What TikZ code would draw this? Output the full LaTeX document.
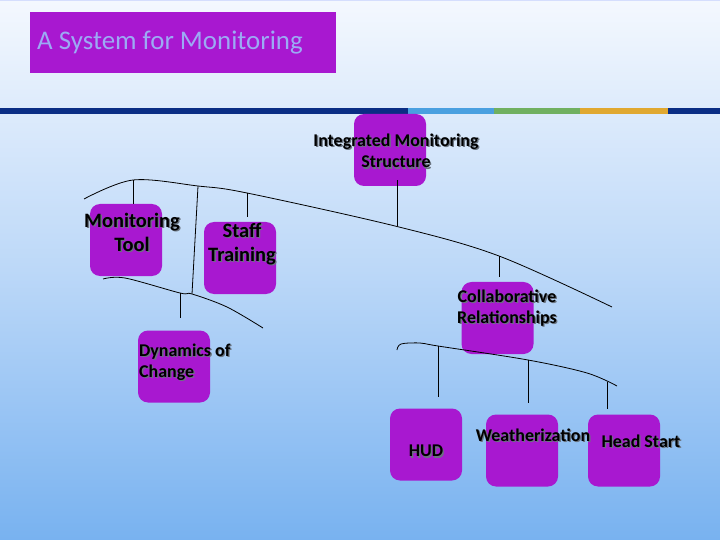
\documentclass[tikz,border=0pt]{standalone}
\usepackage{fontspec}
\setmainfont{Carlito}
\definecolor{bgtop}{HTML}{F4F8FE}
\definecolor{bgmid}{HTML}{BCD8F8}
\definecolor{bgbot}{HTML}{78B2F0}
\definecolor{boxpurple}{HTML}{A818D0}
\definecolor{titletext}{HTML}{9CAAF4}
\definecolor{navy}{HTML}{0A2D84}
\definecolor{barblue}{HTML}{4AA0E0}
\definecolor{bargreen}{HTML}{70B060}
\definecolor{barorange}{HTML}{E0A830}
\definecolor{shadowgray}{HTML}{6A7480}
\newcommand\mylabel[4][]{%
  \node[lbl,text=shadowgray,xshift=1.3bp,yshift=-1.3bp,#1] at (#3) {#4};
  \node[lbl,#1] (#2) at (#3) {#4};}
\begin{document}
\begin{tikzpicture}[x=1bp,y=-1bp,
  box/.style={fill=boxpurple,draw=none,rounded corners=10bp,minimum width=72bp,minimum height=72bp,inner sep=0pt},
  lbl/.style={inner sep=0pt,align=center,font=\bfseries\fontsize{18}{21.5}\selectfont,text=black},
  big/.style={font=\bfseries\fontsize{20.5}{24}\selectfont},
  conn/.style={draw=black,line width=0.8bp}]
\useasboundingbox (0,0) rectangle (720,540);
\shade[top color=bgtop, bottom color=bgbot, middle color=bgmid] (0,0) rectangle (720,540);
\draw[draw=bgmid!80!blue!40!white, line width=1bp] (0,0.5) -- (720,0.5);
% title
\node[fill=boxpurple,minimum width=306bp,minimum height=61bp,inner sep=0pt] (titlebox) at (183,42.5) {};
\node[anchor=west,inner sep=0pt,text=titletext,font=\fontsize{27}{30}\selectfont] (title) at (37,43) {A System for Monitoring};
% colour bar
\fill[navy] (0,108) rectangle (408,114);
\fill[barblue] (408,108) rectangle (494,114);
\fill[bargreen] (494,108) rectangle (580,114);
\fill[barorange] (580,108) rectangle (668,114);
\fill[navy] (668,108) rectangle (720,114);
% boxes
\node[box] (imsbox) at (390,150) {};
\node[box] (mtbox) at (126,240) {};
\node[box] (stbox) at (240,258) {};
\node[box] (crbox) at (497.5,318) {};
\node[box] (docbox) at (174,366.5) {};
\node[box] (hudbox) at (426,444.5) {};
\node[box] (wzbox) at (522,450.5) {};
\node[box] (hsbox) at (624,450.5) {};
% labels
\mylabel{imst}{396,151}{Integrated Monitoring\\Structure}
\mylabel[big]{mtt}{132,232}{Monitoring\\Tool}
\mylabel[big]{stt}{242,244}{Staff\\Training}
\mylabel{crt}{507,308}{Collaborative\\Relationships}
\mylabel[anchor=west,align=left]{doct}{139,362}{Dynamics of\\Change}
\mylabel{hudt}{426,451}{HUD}
\mylabel{wzt}{533,435}{Weatherization}
\mylabel{hst}{641,441}{Head Start}
% connector curves
\coordinate (c1) at (133,180);
\coordinate (c2) at (247,193);
\coordinate (c3) at (397,226.5);
\coordinate (c4) at (499,256);
\coordinate (c5) at (198,186);
\draw[conn] plot[smooth,tension=0.55] coordinates {(84,199) (c1) (c5) (c2) (c3) (c4) (612,307)};
\draw[conn] (c1) -- (mtbox.north -| c1);
\draw[conn] (c2) -- (247,217);
\draw[conn] (c3) -- (397,180);
\draw[conn] (c4) -- (499,277);
\coordinate (d1) at (180,293);
\coordinate (d2) at (192,294);
\draw[conn] (c5) -- (d2);
\draw[conn] plot[smooth,tension=0.55] coordinates {(103,279) (125,278) (d1) (d2) (227,307) (263,328)};
\draw[conn] (d1) -- (180,318);
\coordinate (e1) at (438,346);
\coordinate (e2) at (528,360);
\coordinate (e3) at (607,382);
\draw[conn] plot[smooth,tension=0.55] coordinates {(397,350) (401,344) (420,343) (e1) (e2) (587,373) (617,386)};
\draw[conn] (e1) -- (438,397);
\draw[conn] (e2) -- (528,403);
\draw[conn] (e3) -- (607,409);
\end{tikzpicture}
\end{document}
